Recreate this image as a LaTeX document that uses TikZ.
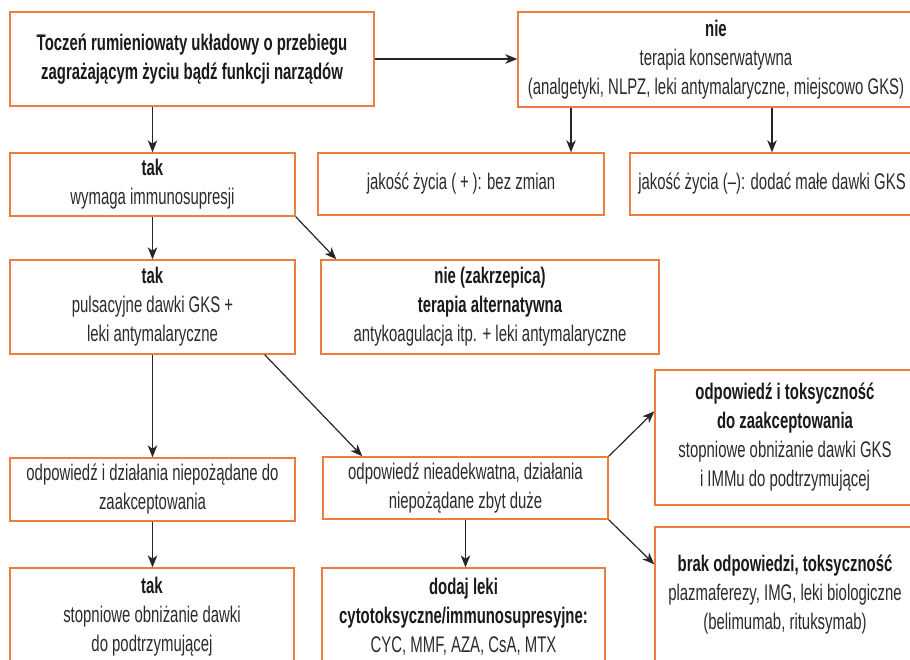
\documentclass[tikz,border=0pt]{standalone}
\usepackage{fontspec}
\setmainfont{Liberation Sans}[FakeStretch=0.66]
\usetikzlibrary{arrows.meta,calc}
\definecolor{boxor}{HTML}{EF7D40}
\definecolor{txtc}{HTML}{2B2B2B}
\definecolor{boldc}{HTML}{1A1A1A}
\newcommand\myfs{\fontsize{22.6}{29}\selectfont}
\newcommand\hb[1]{{\bfseries\color{boldc}#1}}
\tikzset{
  box/.style={draw=boxor, line width=1.4pt, rectangle, inner sep=2pt, align=center, font=\myfs, text=txtc},
  arr/.style={draw=black!85, line width=1.2pt, -{Stealth[length=12pt,width=9.5pt,inset=3.5pt]}}
}
\begin{document}
\begin{tikzpicture}[x=1pt,y=-1pt]
\clip (0,0) rectangle (910,659);
\fill[white] (0,0) rectangle (910,659);

\node[box, minimum width=364pt, minimum height=94pt] (A) at (192,59)
  {\hb{Toczeń rumieniowaty układowy o przebiegu}\\\hb{zagrażającym życiu bądź funkcji narządów}};
\node[box, minimum width=396pt, minimum height=95pt] (B) at (716,59.5)
  {\hb{nie}\\terapia konserwatywna\\(analgetyki, NLPZ, leki antymalaryczne, miejscowo GKS)};
\node[box, minimum width=286pt, minimum height=62pt] (C) at (461,184)
  {jakość życia (\,+\,): bez zmian};
\node[box, minimum width=284pt, minimum height=62pt] (D) at (772,184)
  {jakość życia (–): dodać małe dawki GKS};
\node[box, minimum width=285pt, minimum height=63pt] (E) at (152.5,184.5)
  {\hb{tak}\\wymaga immunosupresji};
\node[box, minimum width=285pt, minimum height=94pt] (F) at (152.5,307)
  {\hb{tak}\\pulsacyjne dawki GKS +\\leki antymalaryczne};
\node[box, minimum width=338pt, minimum height=94pt] (G) at (490,307)
  {\hb{nie (zakrzepica)}\\\hb{terapia alternatywna}\\antykoagulacja itp. + leki antymalaryczne};
\node[box, minimum width=285pt, minimum height=63pt] (H) at (152.5,489.5)
  {odpowiedź i działania niepożądane do\\zaakceptowania};
\node[box, minimum width=285pt, minimum height=62pt] (I) at (465.5,488)
  {odpowiedź nieadekwatna, działania\\niepożądane zbyt duże};
\node[box, minimum width=284pt, minimum height=97pt] (J) at (152,616.5)
  {\hb{tak}\\stopniowe obniżanie dawki\\do podtrzymującej};
\node[box, minimum width=283pt, minimum height=98pt] (K) at (463.5,617)
  {\hb{dodaj leki}\\\hb{cytotoksyczne/immunosupresyjne:}\\CYC, MMF, AZA, CsA, MTX};
\node[box, minimum width=260pt, minimum height=135pt] (L) at (785,437.5)
  {\hb{odpowiedź i toksyczność}\\\hb{do zaakceptowania}\\stopniowe obniżanie dawki GKS\\i IMMu do podtrzymującej};
\node[box, minimum width=260pt, minimum height=136pt] (M) at (785,595)
  {\hb{brak odpowiedzi, toksyczność}\\plazmaferezy, IMG, leki biologiczne\\(belimumab, rituksymab)};

\draw[arr] (A.east) -- (A.east -| B.west);
\draw[arr] (E.north |- A.south) -- (E.north);
\draw[arr] ([xshift=-145pt]B.south) -- ([xshift=-145pt]B.south |- C.north);
\draw[arr] (D.north |- B.south) -- (D.north);
\draw[arr] (E.south) -- (F.north);
\draw[arr] (E.south east) -- ([xshift=16pt]G.north west);
\draw[arr] (F.south) -- (H.north);
\draw[arr] ([xshift=-31pt]F.south east) -- ([xshift=40pt]I.north west);
\draw[arr] (H.south) -- (H.south |- J.north);
\draw[arr] (I.south) -- (I.south |- K.north);
\draw[arr] (I.north east) -- ([yshift=-42pt]L.north west);
\draw[arr] (I.south east) -- ([yshift=-38pt]M.north west);
\end{tikzpicture}
\end{document}
